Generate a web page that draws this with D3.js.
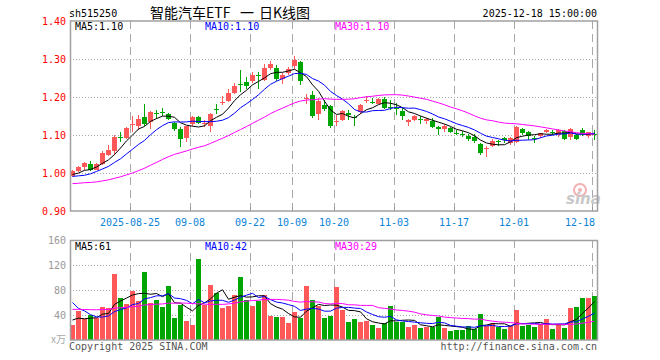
<!DOCTYPE html>
<html><head><meta charset="utf-8">
<script src="https://cdn.jsdelivr.net/npm/d3@7"></script>
<style>body{margin:0;background:#fff}svg{display:block}</style>
</head><body><svg id="c" width="660" height="360"></svg>
<script>
// ---------- data ----------
const dates = [
"2025-08-11","2025-08-12","2025-08-13","2025-08-14","2025-08-15","2025-08-18","2025-08-19","2025-08-20","2025-08-21","2025-08-22",
"2025-08-25","2025-08-26","2025-08-27","2025-08-28","2025-08-29","2025-09-01","2025-09-02","2025-09-03","2025-09-04","2025-09-05",
"2025-09-08","2025-09-09","2025-09-10","2025-09-11","2025-09-12","2025-09-15","2025-09-16","2025-09-17","2025-09-18","2025-09-19",
"2025-09-22","2025-09-23","2025-09-24","2025-09-25","2025-09-26","2025-09-29","2025-09-30","2025-10-09","2025-10-10","2025-10-13",
"2025-10-14","2025-10-15","2025-10-16","2025-10-17","2025-10-20","2025-10-21","2025-10-22","2025-10-23","2025-10-24","2025-10-27",
"2025-10-28","2025-10-29","2025-10-30","2025-10-31","2025-11-03","2025-11-04","2025-11-05","2025-11-06","2025-11-07","2025-11-10",
"2025-11-11","2025-11-12","2025-11-13","2025-11-14","2025-11-17","2025-11-18","2025-11-19","2025-11-20","2025-11-21","2025-11-24",
"2025-11-25","2025-11-26","2025-11-27","2025-11-28","2025-12-01","2025-12-02","2025-12-03","2025-12-04","2025-12-05","2025-12-08",
"2025-12-09","2025-12-10","2025-12-11","2025-12-12","2025-12-15","2025-12-16","2025-12-17","2025-12-18"];

const opens = [0.993,1.006,1.016,1.024,1.009,1.025,1.048,1.057,1.095,1.092,
1.127,1.125,1.147,1.134,1.157,1.161,1.156,1.131,1.117,1.092,
1.130,1.147,1.130,1.123,1.169,1.186,1.189,1.211,1.234,1.240,
1.241,1.257,1.246,1.276,1.276,1.247,1.263,1.281,1.293,1.196,
1.206,1.156,1.180,1.176,1.137,1.140,1.158,1.148,1.160,1.190,
1.188,1.182,1.194,1.174,1.172,1.164,1.134,1.140,1.141,1.136,
1.138,1.122,1.115,1.119,1.106,1.102,1.097,1.096,1.077,1.065,
1.070,1.083,1.091,1.079,1.082,1.116,1.107,1.092,1.098,1.109,
1.109,1.101,1.110,1.096,1.099,1.114,1.098,1.103];

const highs = [1.009,1.019,1.029,1.031,1.026,1.058,1.075,1.100,1.108,1.122,
1.151,1.152,1.182,1.162,1.166,1.170,1.158,1.134,1.120,1.125,
1.150,1.150,1.140,1.159,1.181,1.202,1.220,1.237,1.272,1.252,
1.265,1.265,1.288,1.294,1.285,1.263,1.279,1.309,1.294,1.208,
1.216,1.197,1.193,1.178,1.153,1.166,1.167,1.152,1.182,1.202,
1.197,1.198,1.199,1.193,1.183,1.170,1.143,1.152,1.149,1.146,
1.145,1.124,1.128,1.121,1.113,1.111,1.103,1.103,1.079,1.070,
1.090,1.087,1.096,1.096,1.123,1.118,1.111,1.098,1.105,1.117,
1.112,1.115,1.114,1.118,1.103,1.118,1.108,1.112];

const lows = [0.990,1.003,1.009,1.004,1.007,1.020,1.045,1.048,1.082,1.090,
1.107,1.114,1.125,1.117,1.143,1.150,1.140,1.110,1.068,1.081,
1.124,1.128,1.121,1.107,1.156,1.180,1.186,1.209,1.213,1.220,
1.237,1.221,1.242,1.272,1.242,1.233,1.259,1.274,1.232,1.182,
1.145,1.140,1.162,1.118,1.124,1.137,1.139,1.123,1.156,1.184,
1.182,1.181,1.168,1.167,1.152,1.140,1.125,1.138,1.129,1.129,
1.118,1.101,1.108,1.105,1.101,1.096,1.084,1.079,1.047,1.041,
1.068,1.070,1.079,1.075,1.079,1.101,1.086,1.079,1.093,1.105,
1.100,1.094,1.088,1.086,1.088,1.097,1.092,1.088];

const closes = [1.006,1.015,1.026,1.009,1.024,1.053,1.061,1.096,1.094,1.119,
1.128,1.142,1.130,1.160,1.156,1.160,1.142,1.115,1.089,1.123,
1.147,1.131,1.131,1.156,1.168,1.187,1.211,1.230,1.233,1.228,
1.258,1.256,1.276,1.288,1.247,1.258,1.274,1.298,1.241,1.197,
1.151,1.189,1.168,1.125,1.138,1.162,1.153,1.147,1.180,1.191,
1.187,1.195,1.172,1.173,1.171,1.149,1.140,1.150,1.140,1.143,
1.121,1.115,1.125,1.109,1.105,1.101,1.090,1.085,1.053,1.066,
1.085,1.082,1.086,1.091,1.121,1.104,1.097,1.091,1.104,1.114,
1.104,1.112,1.090,1.117,1.090,1.104,1.107,1.102];

const volumes = [24,46,33,40,35,53,51,106,67,58,
78,62,109,59,64,53,86,36,56,31,
24,130,56,88,76,52,54,72,101,64,
54,63,72,38,37,37,28,45,35,86,
64,55,36,39,85,48,29,34,29,30,
24,19,27,54,29,29,21,24,19,21,
21,37,19,14,16,16,22,18,42,22,
27,21,18,22,48,22,24,21,26,34,
18,24,19,51,53,67,67,70];

// sessions before the visible window (not drawn), estimated from the start of the MA lines
const priorCloses = [0.985,0.982,0.990,0.978,0.975,0.980,0.972,0.976,0.970,0.977,
0.955,0.940,0.928,0.930,0.925,0.927,0.930,0.955,0.985,0.990,
1.000,1.011,0.970,0.963,0.986,0.995,0.991,0.999,0.989];
const priorVolumes = [45,40,48,42,38,50,44,41,47,39,46,43,42,48,40,45,44,41,43,44,
140,73,100,70,57,31,38,35,32];

const maPeriods = [5,10,30];
const maColors = ["#000000","#0000ff","#ff00ff"];
const priceTicks = [1.4,1.3,1.2,1.1,1.0,0.9];
const volTicks = [160,120,80,40];
const tickDates = ["2025-08-25","2025-09-08","2025-09-22","2025-10-09","2025-10-20","2025-11-03","2025-11-17","2025-12-01","2025-12-18"];
const tickLabels = ["2025-08-25","09-08","09-22","10-09","10-20","11-03","11-17","12-01","12-18"];

// ---------- helpers ----------
function movingAvg(prior, vals, n){
  const all = prior.concat(vals), P = prior.length;
  return vals.map((_, i) => d3.mean(all.slice(i + P - n + 1, i + P + 1)));
}

const RED = "#ff5858", GREEN = "#00a600";
const MONO = "'DejaVu Sans Mono', monospace";
const svg = d3.select("#c");

const L = 70, R = 598;
const x = d3.scaleBand().domain(dates).range([L, R]).padding(0);
const bw = x.bandwidth() - 1;
const y = d3.scaleLinear().domain([0.9, 1.4]).range([211, 21]);
const yv = d3.scaleLinear().domain([0, 160]).range([340, 240]);

// ---------- header ----------
svg.append("text").attr("x", 69).attr("y", 17).attr("font-family", MONO).attr("font-size", 10)
  .attr("fill", "#000").text("sh515250");
const tt = svg.append("text").attr("y", 18).attr("font-family", "'Noto Sans CJK SC'")
  .attr("font-size", 14).attr("fill", "#000");
tt.append("tspan").attr("x", 150).text("智能汽车ETF");
tt.append("tspan").attr("x", 240).text("一");
tt.append("tspan").attr("x", 259).text("日K线图");
svg.append("text").attr("x", 597).attr("y", 17).attr("text-anchor", "end").attr("font-family", MONO)
  .attr("font-size", 10).attr("fill", "#000").text("2025-12-18 15:00:00");

// ---------- grids ----------
const grid = svg.append("g").attr("shape-rendering", "crispEdges");
priceTicks.filter(v => v < 1.4 && v > 0.9).forEach(v => {
  grid.append("line").attr("x1", L).attr("x2", 597).attr("y1", Math.round(y(v)) + 0.5).attr("y2", Math.round(y(v)) + 0.5)
    .attr("stroke", "#a8a8a8").attr("stroke-dasharray", "1,2");
});
volTicks.filter(v => v < 160).forEach(v => {
  grid.append("line").attr("x1", L).attr("x2", 597).attr("y1", Math.round(yv(v)) + 0.5).attr("y2", Math.round(yv(v)) + 0.5)
    .attr("stroke", "#a8a8a8").attr("stroke-dasharray", "1,2");
});
tickDates.forEach(d => {
  const xx = x(d) + 0.5;
  grid.append("line").attr("x1", xx).attr("x2", xx).attr("y1", 21).attr("y2", 211)
    .attr("stroke", "#a8a8a8").attr("stroke-dasharray", "8,5");
  grid.append("line").attr("x1", xx).attr("x2", xx).attr("y1", 240).attr("y2", 340)
    .attr("stroke", "#a8a8a8").attr("stroke-dasharray", "8,5");
  grid.append("line").attr("x1", xx).attr("x2", xx).attr("y1", 207).attr("y2", 211)
    .attr("stroke", "#999");
});

// ---------- axis labels ----------
priceTicks.forEach(v => {
  svg.append("text").attr("x", 66).attr("y", y(v)).attr("dy", "0.35em").attr("text-anchor", "end")
    .attr("font-family", MONO).attr("font-size", 10).attr("fill", "#ff0000").text(v.toFixed(2));
});
volTicks.forEach(v => {
  svg.append("text").attr("x", 66).attr("y", yv(v)).attr("dy", "0.35em").attr("text-anchor", "end")
    .attr("font-family", MONO).attr("font-size", 10).attr("fill", "#999").text(v);
});
svg.append("text").attr("x", 66).attr("y", 343).attr("text-anchor", "end")
  .attr("font-family", "'Noto Sans CJK SC'").attr("font-size", 10).attr("fill", "#aaa").text("x万");

tickDates.forEach((d, k) => {
  const lab = tickLabels[k];
  const w = lab.length * 6.02;
  let cx = x(d);
  if (cx + w / 2 > 595) cx = 595 - w / 2;
  svg.append("text").attr("x", cx).attr("y", 226).attr("text-anchor", "middle")
    .attr("font-family", MONO).attr("font-size", 10).attr("fill", "#0b84d8").text(lab);
});

// ---------- watermark ----------
const wm = svg.append("g");
wm.append("circle").attr("cx", 580).attr("cy", 190).attr("r", 6).attr("fill", "none")
  .attr("stroke", "#f2b0b0").attr("stroke-width", 2);
wm.append("circle").attr("cx", 580).attr("cy", 190).attr("r", 2).attr("fill", "#f2b0b0");
wm.append("text").attr("x", 566).attr("y", 204).attr("font-family", "'DejaVu Sans'")
  .attr("font-size", 15).attr("font-weight", "bold").attr("font-style", "italic")
  .attr("fill", "#c8c8c8").text("sina");

// ---------- candles ----------
const cg = svg.append("g").attr("shape-rendering", "crispEdges");
dates.forEach((d, i) => {
  const o = opens[i], c = closes[i], h = highs[i], l = lows[i];
  const col = c >= o ? RED : GREEN;
  const cx = x(d) + 2.5;
  cg.append("line").attr("x1", cx).attr("x2", cx).attr("y1", y(h)).attr("y2", y(l)).attr("stroke", col);
  const top = y(Math.max(o, c)), bot = y(Math.min(o, c));
  cg.append("rect").attr("x", x(d)).attr("y", top).attr("width", bw)
    .attr("height", Math.max(1, bot - top)).attr("fill", col);
});

// ---------- volume bars ----------
const vg = svg.append("g").attr("shape-rendering", "crispEdges");
dates.forEach((d, i) => {
  const col = closes[i] >= opens[i] ? RED : GREEN;
  vg.append("rect").attr("x", x(d)).attr("y", yv(volumes[i])).attr("width", bw)
    .attr("height", 340 - yv(volumes[i])).attr("fill", col);
});

// ---------- moving averages ----------
const priceMA = maPeriods.map(n => movingAvg(priorCloses, closes, n));
const volMA = maPeriods.map(n => movingAvg(priorVolumes, volumes, n));
const lineP = d3.line().x((v, i) => x(dates[i]) + 2.5).y(v => y(v));
const lineV = d3.line().x((v, i) => x(dates[i]) + 2.5).y(v => yv(v));
priceMA.forEach((arr, k) => {
  svg.append("path").attr("d", lineP(arr)).attr("fill", "none").attr("stroke", maColors[k]).attr("stroke-width", 1);
});
volMA.forEach((arr, k) => {
  svg.append("path").attr("d", lineV(arr)).attr("fill", "none").attr("stroke", maColors[k]).attr("stroke-width", 1);
});

// ---------- frames ----------
svg.append("rect").attr("x", 70.5).attr("y", 21).attr("width", 527).attr("height", 190)
  .attr("fill", "none").attr("stroke", "#a0a0a0").attr("stroke-width", 1.5);
svg.append("rect").attr("x", 70.5).attr("y", 240.5).attr("width", 527).attr("height", 99.5)
  .attr("fill", "none").attr("stroke", "#a0a0a0").attr("stroke-width", 1.5);

// ---------- MA legends ----------
const legX = [75, 205, 335];
maPeriods.forEach((n, k) => {
  svg.append("text").attr("x", legX[k]).attr("y", 30).attr("font-family", MONO).attr("font-size", 10)
    .attr("fill", maColors[k]).text("MA" + n + ":" + priceMA[k][priceMA[k].length - 1].toFixed(2));
  svg.append("text").attr("x", legX[k]).attr("y", 250).attr("font-family", MONO).attr("font-size", 10)
    .attr("fill", maColors[k]).text("MA" + n + ":" + Math.floor(volMA[k][volMA[k].length - 1]));
});

// ---------- footer ----------
svg.append("text").attr("x", 69).attr("y", 350).attr("font-family", MONO).attr("font-size", 10)
  .attr("fill", "#555").text("Copyright 2025 SINA.COM");
svg.append("text").attr("x", 597).attr("y", 350).attr("text-anchor", "end").attr("font-family", MONO)
  .attr("font-size", 10).attr("fill", "#555").text("http://finance.sina.com.cn");
</script></body></html>
